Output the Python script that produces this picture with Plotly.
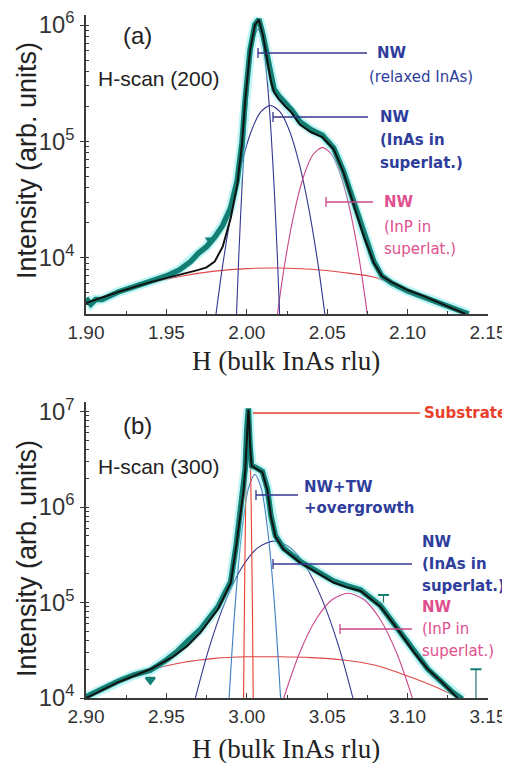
import math
import plotly.graph_objects as go

# ---------------- values ----------------
# Panel (a): H-scan (200)
a_data_h = [1.900, 1.903, 1.906, 1.910, 1.920, 1.930, 1.940, 1.950, 1.958, 1.965, 1.970, 1.975, 1.980,
            1.985, 1.990, 1.994, 1.997, 1.999, 2.002, 2.005, 2.0075, 2.010, 2.0125, 2.015, 2.017, 2.020,
            2.024, 2.028, 2.033, 2.040, 2.047, 2.054, 2.060, 2.066, 2.073, 2.079, 2.084, 2.090, 2.100,
            2.110, 2.120, 2.130, 2.138]
a_data_i = [4500, 4000, 4400, 4400, 5100, 5600, 6300, 7000, 7900, 9300, 11000, 12500, 15000,
            19000, 27000, 46000, 98000, 230000, 610000, 1010000, 1120000, 830000, 540000, 345000, 280000, 245000,
            212000, 186000, 148000, 126000, 113000, 88000, 56000, 31000, 15500, 9300, 7000, 6100, 5200,
            4600, 4000, 3600, 3300]
a_fit_h = [1.900, 1.920, 1.940, 1.950, 1.960, 1.970, 1.975, 1.980, 1.985, 1.990, 1.994, 1.997, 1.999,
           2.002, 2.005, 2.0075, 2.010, 2.0125, 2.015, 2.017, 2.020, 2.024, 2.028, 2.033, 2.040, 2.047,
           2.054, 2.060, 2.066, 2.073, 2.079, 2.084, 2.090, 2.100, 2.110, 2.120, 2.136]
a_fit_i = [4100, 5100, 6200, 6700, 7300, 7900, 8300, 9300, 12500, 22000, 42000, 95000, 225000,
           600000, 1000000, 1110000, 820000, 520000, 330000, 265000, 230000, 200000, 176000, 140000, 120000, 109000,
           86000, 55000, 30000, 15000, 9100, 7000, 6200, 5300, 4700, 4100, 3300]
a_relaxed_h = [1.993, 1.995, 1.997, 1.999, 2.001, 2.003, 2.005, 2.007, 2.009, 2.011, 2.013, 2.015, 2.017, 2.019, 2.021]
a_relaxed_i = [2020, 10250, 40500, 124700, 299000, 558000, 813000, 920000, 813000, 558000, 299000, 124700, 40500, 10250, 2020]
a_sl_h = [1.9787, 1.9847, 1.9907, 1.9967, 2.0027, 2.0087, 2.0147, 2.0207, 2.0267, 2.0327, 2.0387, 2.0447, 2.0507]
a_sl_i = [1950, 8100, 25900, 63800, 122000, 179500, 204000, 179500, 122000, 63800, 25900, 8100, 1950]
a_inp_h = [2.017, 2.023, 2.029, 2.035, 2.041, 2.047, 2.053, 2.059, 2.065, 2.071, 2.077]
a_inp_i = [2020, 7900, 22800, 48600, 76600, 89000, 76600, 48600, 22800, 7900, 2020]
a_bg_h = [1.90, 1.92, 1.94, 1.96, 1.98, 2.00, 2.02, 2.04, 2.06, 2.08, 2.10, 2.12, 2.14]
a_bg_i = [4100, 5100, 6100, 7000, 7700, 8100, 8200, 8000, 7500, 6800, 5300, 4100, 3200]
a_pts_h = [1.977]
a_pts_i = [14300]
a_xticks = [1.90, 1.95, 2.00, 2.05, 2.10, 2.15]
a_xlabels = ["1.90", "1.95", "2.00", "2.05", "2.10", "2.15"]

# Panel (b): H-scan (300)
b_data_h = [2.900, 2.910, 2.920, 2.930, 2.940, 2.950, 2.957, 2.963, 2.971, 2.982, 2.990, 2.9935, 2.996,
            2.998, 2.999, 3.000, 3.001, 3.002, 3.003, 3.0055, 3.0097, 3.0128, 3.015, 3.0178, 3.0228,
            3.0334, 3.044, 3.054, 3.062, 3.0708, 3.083, 3.094, 3.104, 3.1126, 3.1207, 3.128, 3.134]
b_data_i = [10300, 12500, 15000, 17500, 19500, 25000, 31000, 39000, 52000, 90000, 165000, 410000, 860000,
            1500000, 2500000, 6500000, 10800000, 4400000, 2700000, 2600000, 2350000, 1550000, 820000, 500000, 370000,
            268000, 212000, 168000, 150000, 135000, 93000, 53000, 30500, 20000, 15000, 11500, 9700]
b_fit_h = [2.900, 2.919, 2.940, 2.954, 2.963, 2.971, 2.982, 2.990, 2.9935, 2.996, 2.998, 2.999, 2.9995,
           3.000, 3.0005, 3.001, 3.0015, 3.002, 3.003, 3.0055, 3.0097, 3.0128, 3.0150, 3.0178, 3.0228,
           3.0334, 3.044, 3.054, 3.062, 3.0708, 3.083, 3.094, 3.104, 3.1126, 3.1207, 3.131]
b_fit_i = [10000, 14400, 20000, 27000, 35000, 48000, 85000, 160000, 400000, 850000, 1500000, 2400000, 3800000,
           6000000, 8800000, 10500000, 8000000, 4500000, 2700000, 2550000, 2300000, 1500000, 800000, 490000, 360000,
           260000, 205000, 162000, 145000, 132000, 91000, 52000, 30000, 20000, 15000, 10000]
b_sub_h = [2.9975, 2.998, 2.9985, 2.999, 2.9995, 3.000, 3.0005, 3.001, 3.0015, 3.002, 3.0025, 3.003, 3.0035, 3.004, 3.0045]
b_sub_i = [830, 10000, 83000, 464000, 1780000, 4640000, 8260000, 10000000, 8260000, 4640000, 1780000, 464000, 83000, 10000, 830]
b_tw_h = [2.987, 2.989, 2.993, 2.997, 3.001, 3.005, 3.009, 3.013, 3.017, 3.021, 3.023]
b_tw_i = [2390, 10000, 106000, 571000, 1570000, 2200000, 1570000, 571000, 106000, 10000, 2390]
b_sl_h = [2.964, 2.967, 2.977, 2.987, 2.997, 3.007, 3.017, 3.027, 3.037, 3.047, 3.057, 3.067, 3.070]
b_sl_i = [5250, 8570, 35400, 106000, 234000, 376000, 440000, 376000, 234000, 106000, 35400, 8570, 5250]
b_inp_h = [3.020, 3.023, 3.033, 3.043, 3.053, 3.063, 3.073, 3.083, 3.093, 3.103, 3.106]
b_inp_i = [6750, 10000, 30200, 66500, 107000, 125000, 107000, 66500, 30200, 10000, 6750]
b_bg_h = [2.90, 2.92, 2.94, 2.96, 2.98, 3.00, 3.02, 3.04, 3.06, 3.08, 3.10, 3.12, 3.14]
b_bg_i = [10000, 14500, 19500, 23500, 26000, 27000, 27000, 26500, 25000, 22000, 17000, 12500, 8500]
b_pts_h = [2.940, 3.085, 3.1425]
b_pts_i = [15500, 120000, 20000]
b_pts_err = [0, 20000, 16000]
b_xticks = [2.90, 2.95, 3.00, 3.05, 3.10, 3.15]
b_xlabels = ["2.90", "2.95", "3.00", "3.05", "3.10", "3.15"]

# ---------------- styling ----------------
# the page body keeps its default 8px margin, so the figure is sized to fill the rest of the window
PAGE_W, PAGE_H, BODY = 510, 763, 8
FIG_W, FIG_H = PAGE_W - BODY, PAGE_H - BODY
NAVY = "#33368f"
NAVY_TXT = "#2f3d9c"
PINK = "#c8488a"
PINK_TXT = "#e0508e"
RED = "#e04646"
SUB = "#e8402c"
TW = "#3f7fc0"
TEAL = "#137f74"
HALO = "rgba(120,232,232,0.45)"
AX = "#3a3a3a"
SANS = "Liberation Sans, Arial, sans-serif"
SERIF = "Liberation Serif, Times New Roman, serif"
LAB = "DejaVu Sans, Verdana, sans-serif"


def px(x):
    return (x - BODY) / FIG_W


def py(y):
    return 1 - (y - BODY) / FIG_H


fig = go.Figure()


def line(h, i, color, width, xa, ya, shape="spline"):
    fig.add_trace(go.Scatter(x=h, y=i, mode="lines", xaxis=xa, yaxis=ya,
                             line=dict(color=color, width=width, shape=shape, smoothing=0.8),
                             showlegend=False, hoverinfo="skip"))


for xa, ya, comps in [
    ("x", "y", [(a_bg_h, a_bg_i, RED), (a_sl_h, a_sl_i, NAVY), (a_inp_h, a_inp_i, PINK),
                (a_relaxed_h, a_relaxed_i, NAVY)]),
    ("x2", "y2", [(b_bg_h, b_bg_i, RED), (b_sl_h, b_sl_i, NAVY), (b_inp_h, b_inp_i, PINK),
                  (b_tw_h, b_tw_i, TW), (b_sub_h, b_sub_i, SUB)]),
]:
    for h, i, c in comps:
        line(h, i, c, 1.1, xa, ya)

for xa, ya, dh, di, fh, fi in [("x", "y", a_data_h, a_data_i, a_fit_h, a_fit_i),
                               ("x2", "y2", b_data_h, b_data_i, b_fit_h, b_fit_i)]:
    line(dh, di, HALO, 10, xa, ya, shape="linear")
    line(dh, di, TEAL, 5.5, xa, ya, shape="linear")
    line(fh, fi, "#111111", 2.0, xa, ya, shape="linear")

fig.add_trace(go.Scatter(x=a_pts_h, y=a_pts_i, mode="markers", xaxis="x", yaxis="y",
                         marker=dict(symbol="triangle-down", size=9, color=TEAL),
                         showlegend=False, hoverinfo="skip"))
fig.add_trace(go.Scatter(x=b_pts_h, y=b_pts_i, mode="markers", xaxis="x2", yaxis="y2",
                         marker=dict(symbol=["triangle-down", "line-ew-open", "line-ew-open"], size=8,
                                     color=TEAL, line=dict(color=TEAL, width=2)),
                         error_y=dict(type="data", symmetric=False, array=[0, 0, 0], arrayminus=b_pts_err,
                                      color="#2a6f6a", thickness=1.2, width=0),
                         showlegend=False, hoverinfo="skip"))

xdom = [px(86), px(488)]
common_x = dict(domain=xdom, showline=True, linecolor=AX, linewidth=1.5, ticks="inside", ticklen=5,
                tickcolor=AX, showgrid=False, zeroline=False, ticklabelstandoff=0, automargin=False,
                tickfont=dict(family=SANS, size=19, color="#333333"))
common_y = dict(type="log", showline=True, linecolor=AX, linewidth=1.5, ticks="outside", ticklen=4,
                tickcolor=AX, showgrid=False, zeroline=False, dtick=1, exponentformat="power",
                automargin=False, ticklabelstandoff=2,
                tickfont=dict(family=SANS, size=19, color="#333333"),
                minor=dict(ticks="inside", ticklen=3, tickcolor=AX))

fig.update_layout(
    width=FIG_W, height=FIG_H, margin=dict(l=0, r=0, t=0, b=0),
    paper_bgcolor="white", plot_bgcolor="white", showlegend=False,
    xaxis=dict(common_x, anchor="y", range=[1.90, 2.15], tickvals=a_xticks, ticktext=a_xlabels,
               minor=dict(ticks="inside", ticklen=3, tickcolor=AX, dtick=0.025, tick0=1.9)),
    yaxis=dict(common_y, anchor="x", domain=[py(314), py(15)], range=[math.log10(3300), math.log10(1.22e6)]),
    xaxis2=dict(common_x, anchor="y2", range=[2.90, 3.15], tickvals=b_xticks, ticktext=b_xlabels,
                minor=dict(ticks="inside", ticklen=3, tickcolor=AX, dtick=0.025, tick0=2.9)),
    yaxis2=dict(common_y, anchor="x2", domain=[py(698), py(402)], range=[4.0, 7.1]),
)

ann = []


def text(x, y, s, size, color="#222222", family=SANS, xanchor="left", angle=0, bold=False):
    ann.append(dict(x=px(x), y=py(y), xref="paper", yref="paper", text=s, showarrow=False,
                    xanchor=xanchor, yanchor="middle", textangle=angle,
                    font=dict(family=family, size=size, color=color, weight=700 if bold else 400)))


# axis titles
for yc in (161, 559):
    text(27, yc, "Intensity (arb. units)", 27, xanchor="center", angle=-90)
for yc in (361, 749):
    text(286, yc, "H (bulk InAs rlu)", 27, family=SERIF, xanchor="center")

text(137, 36, "(a)", 24, xanchor="center")
text(96, 78, "H-scan (200)", 21)
text(137, 425, "(b)", 24, xanchor="center")
text(96, 466, "H-scan (300)", 21)

# callouts
shapes = []


def callout(x0, x1, y, color, tick=True):
    shapes.append(dict(type="line", xref="paper", yref="paper", x0=px(x0), x1=px(x1), y0=py(y), y1=py(y),
                       line=dict(color=color, width=1.3)))
    if tick:
        shapes.append(dict(type="line", xref="paper", yref="paper", x0=px(x0), x1=px(x0), y0=py(y - 5),
                           y1=py(y + 5), line=dict(color=color, width=1.3)))


LS = 15
callout(258, 367, 53, NAVY)
text(375, 53, "NW", LS, NAVY_TXT, LAB, bold=True)
text(367, 77, "(relaxed InAs)", LS, NAVY_TXT, LAB)
callout(273, 368, 117, NAVY)
text(378, 117, "NW", LS, NAVY_TXT, LAB, bold=True)
text(378, 140, "(InAs in", LS, NAVY_TXT, LAB, bold=True)
text(378, 163, "superlat.)", LS, NAVY_TXT, LAB, bold=True)
callout(326, 373, 202, PINK)
text(382, 202, "NW", LS, PINK_TXT, LAB, bold=True)
text(382, 227, "(InP in", LS, PINK_TXT, LAB)
text(382, 249, "superlat.)", LS, PINK_TXT, LAB)

callout(253, 420, 413, SUB, tick=False)
text(422, 413, "Substrate", LS, SUB, LAB, bold=True)
callout(256, 298, 495, NAVY)
text(302, 487, "NW+TW", LS, NAVY_TXT, LAB, bold=True)
text(302, 508, "+overgrowth", LS, NAVY_TXT, LAB, bold=True)
callout(273, 412, 564, NAVY)
text(420, 542, "NW", LS, NAVY_TXT, LAB, bold=True)
text(420, 564, "(InAs in", LS, NAVY_TXT, LAB, bold=True)
text(420, 586, "superlat.)", LS, NAVY_TXT, LAB, bold=True)
callout(340, 412, 629, PINK)
text(420, 607, "NW", LS, PINK_TXT, LAB, bold=True)
text(420, 629, "(InP in", LS, PINK_TXT, LAB)
text(420, 651, "superlat.)", LS, PINK_TXT, LAB)

fig.update_layout(annotations=ann, shapes=shapes)
fig.write_html("out.html")
